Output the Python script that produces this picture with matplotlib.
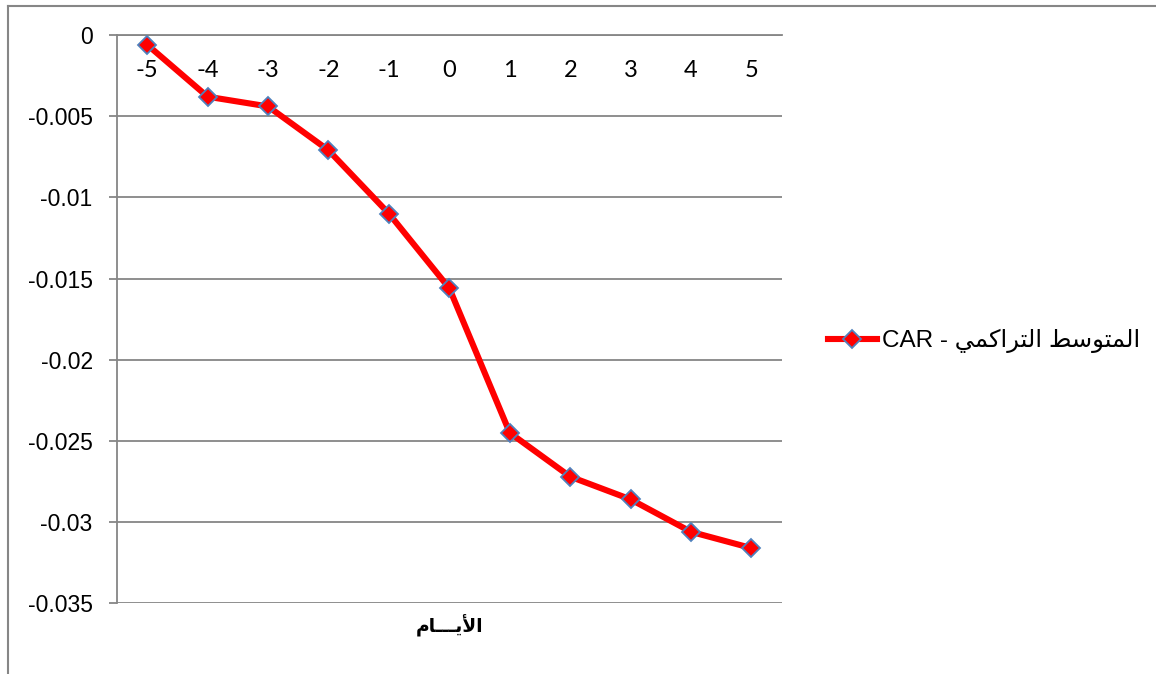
import matplotlib
matplotlib.use("Agg")
import matplotlib.pyplot as plt
from matplotlib.font_manager import FontProperties
from matplotlib.lines import Line2D


days = [-5, -4, -3, -2, -1, 0, 1, 2, 3, 4, 5]
car = [-0.0006, -0.0038, -0.0044, -0.0071, -0.0110, -0.0156,
       -0.0245, -0.0272, -0.0286, -0.0306, -0.0316]
y_ticks = [0, -0.005, -0.01, -0.015, -0.02, -0.025, -0.03, -0.035]
y_labels = ["0", "-0.005", "-0.01", "-0.015", "-0.02", "-0.025", "-0.03", "-0.035"]
series_name = "المتوسط التراكمي"
series_code = "CAR"
x_title = "الأيـــام"


# matplotlib has no Arabic shaping, so pick the presentation forms by hand
# forms: isolated, final, initial, medial
FORMS = {
    "ا": ("\ufe8d", "\ufe8e", None, None),
    "أ": ("\ufe83", "\ufe84", None, None),
    "ل": ("\ufedd", "\ufede", "\ufedf", "\ufee0"),
    "م": ("\ufee1", "\ufee2", "\ufee3", "\ufee4"),
    "ت": ("\ufe95", "\ufe96", "\ufe97", "\ufe98"),
    "و": ("\ufeed", "\ufeee", None, None),
    "س": ("\ufeb1", "\ufeb2", "\ufeb3", "\ufeb4"),
    "ط": ("\ufec1", "\ufec2", "\ufec3", "\ufec4"),
    "ر": ("\ufead", "\ufeae", None, None),
    "ك": ("\ufed9", "\ufeda", "\ufedb", "\ufedc"),
    "ي": ("\ufef1", "\ufef2", "\ufef3", "\ufef4"),
    "لا": ("\ufefb", "\ufefc", None, None),
    "لأ": ("\ufef7", "\ufef8", None, None),
}
TATWEEL = "\u0640"


def joining(u):
    if u == TATWEEL:
        return "C"
    f = FORMS.get(u)
    if f is None:
        return None
    return "D" if f[2] else "R"


def shape_arabic(text):
    units = []
    i = 0
    while i < len(text):
        if text[i] == "ل" and i + 1 < len(text) and text[i + 1] in "اأ":
            units.append(text[i:i + 2])
            i += 2
        else:
            units.append(text[i])
            i += 1
    glyphs = []
    for i, u in enumerate(units):
        if u not in FORMS:
            glyphs.append(u)
            continue
        prev_join = i > 0 and joining(units[i - 1]) in ("D", "C")
        next_join = (joining(u) == "D" and i + 1 < len(units)
                     and joining(units[i + 1]) is not None)
        iso, fin, ini, med = FORMS[u]
        if prev_join and next_join:
            glyphs.append(med)
        elif prev_join:
            glyphs.append(fin)
        elif next_join:
            glyphs.append(ini)
        else:
            glyphs.append(iso)
    return "".join(reversed(glyphs))


W, H = 1156, 674
fig = plt.figure(figsize=(W / 100, H / 100), dpi=100)
ax = fig.add_axes([117 / W, 1 - 603.3 / H, (781.7 - 117) / W, (603.3 - 35) / H])

grey = "#868686"

# spines first: moving the bottom spine resets the tick labels
for s in ("top", "right"):
    ax.spines[s].set_visible(False)
ax.spines["bottom"].set_position(("data", 0))
ax.spines["bottom"].set_color(grey)
ax.spines["bottom"].set_linewidth(1.3)
ax.spines["left"].set_color(grey)
ax.spines["left"].set_linewidth(1.3)

ax.plot(days, car, color="#ff0000", lw=4.4, marker="D", ms=9.5,
        markerfacecolor="#ff0000", markeredgecolor="#4f81bd", mew=1.3,
        label=series_code + " - " + shape_arabic(series_name), zorder=3)

ax.set_xlim(-5.5, 5.5)
ax.set_ylim(-0.035, 0)
ax.set_yticks(y_ticks)
ax.set_yticklabels(y_labels, fontsize=16.5, family="Liberation Sans")
ax.set_xticks(days)
ax.set_xticklabels([str(d) for d in days], fontsize=17, family="Lato")

ax.grid(axis="y", color=grey, lw=1.3)
ax.set_axisbelow(True)
ax.tick_params(axis="x", length=0, pad=18)
ax.tick_params(axis="y", length=5.5, width=1.3, color=grey, pad=12)

ax.text(0.5, -0.02, shape_arabic(x_title), transform=ax.transAxes,
        ha="center", va="top", fontsize=13.5, fontweight="bold",
        family="DejaVu Sans")

fig.legend(loc="center left", bbox_to_anchor=(816 / W, 1 - 341 / H),
           frameon=False, borderpad=0, handlelength=2.0, handletextpad=0.2,
           prop=FontProperties(family=["Liberation Sans", "DejaVu Sans"], size=17.5))

# outer chart frame
fig.add_artist(Line2D([7.5 / W, 7.5 / W], [0, 1 - 5.5 / H], color=grey, lw=1.5))
fig.add_artist(Line2D([7.5 / W, 1], [1 - 5.5 / H, 1 - 5.5 / H], color=grey, lw=1.5))

fig.savefig("out.png", dpi=100)
